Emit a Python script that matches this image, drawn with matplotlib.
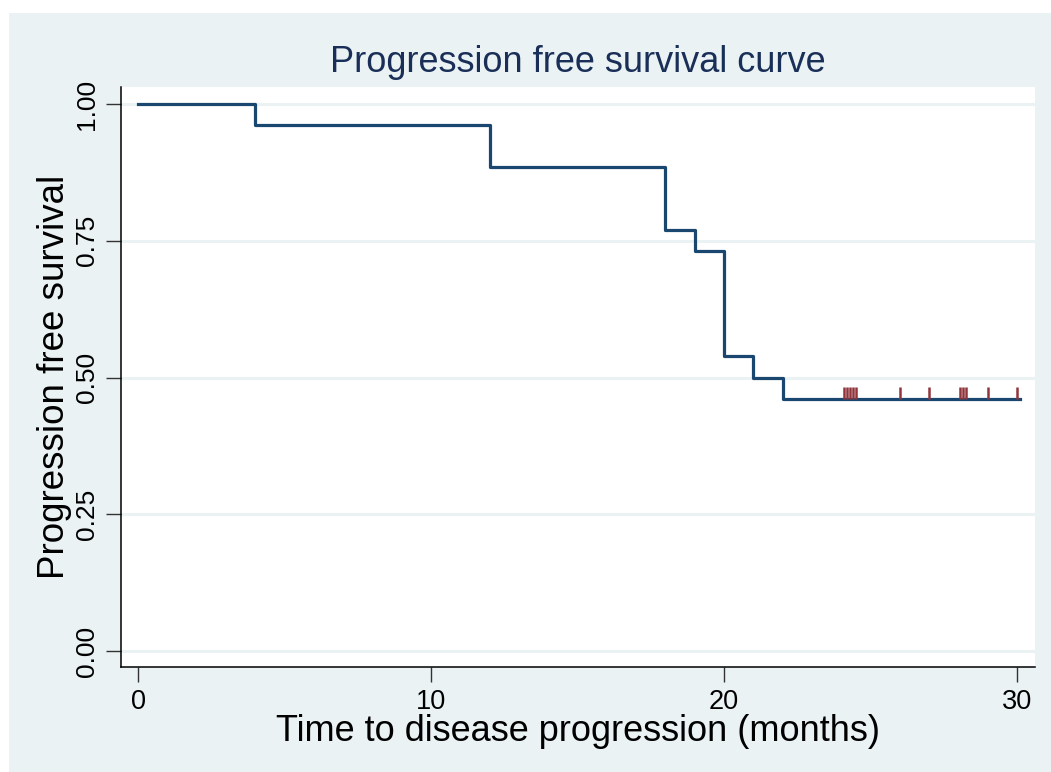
import matplotlib
matplotlib.use("Agg")
import matplotlib.pyplot as plt
import numpy as np

plt.rcParams['font.family'] = ['Liberation Sans', 'DejaVu Sans']

# Data
step_times = [0, 4, 12, 18, 19, 20, 21, 22, 30.1]
step_surv = [1.0, 0.9615, 0.8846, 0.7692, 0.7308, 0.5385, 0.5, 0.4615, 0.4615]
censor_times = [24.1, 24.2, 24.3, 24.4, 24.5, 26.0, 27.0, 28.05, 28.15, 28.25, 29.0, 30.0]
censor_surv = [0.4615] * len(censor_times)
yticks = [0.0, 0.25, 0.5, 0.75, 1.0]
ytick_labels = ["0.00", "0.25", "0.50", "0.75", "1.00"]
xticks = [0, 10, 20, 30]

W, H = 1051, 772
fig = plt.figure(figsize=(W / 100, H / 100), dpi=100)
fig.patch.set_facecolor("white")
bg = "#EAF2F3"
fig.patches.append(plt.Rectangle((9 / W, 0), 1 - 9 / W, 1 - 13 / H,
                                 transform=fig.transFigure, facecolor=bg,
                                 edgecolor="none", zorder=-10))

left, right, top, bottom = 121, 1035, 87, 667
ax = fig.add_axes([left / W, 1 - bottom / H, (right - left) / W, (bottom - top) / H])
ax.set_facecolor("white")

xs = (1017 - 138) / 30
ax.set_xlim(-(138 - left) / xs, 30 + (right - 1017) / xs)
ys = (651 - 104)
ax.set_ylim(-(bottom - 651) / ys, 1 + (104 - top) / ys)

for y in yticks:
    ax.axhline(y, color=bg, lw=2.2, zorder=0)

ax.step(step_times, step_surv, where="post", color="#1a476f", lw=2.3, zorder=3)
ax.vlines(censor_times, np.array(censor_surv), np.array(censor_surv) + 0.021,
          color="#90353B", lw=1.8, zorder=4)

ax.set_xticks(xticks)
ax.set_xticklabels([str(t) for t in xticks], fontsize=19.5)
ax.set_yticks(yticks)
ax.set_yticklabels(ytick_labels, fontsize=19, rotation=90, va="center")
ax.tick_params(axis="both", direction="out", length=11, width=1, color="#333333", pad=5)
ax.tick_params(axis="x", pad=5)
for s in ["top", "right"]:
    ax.spines[s].set_visible(False)
for s in ["left", "bottom"]:
    ax.spines[s].set_linewidth(1.1)
    ax.spines[s].set_color("black")

ax.set_xlabel("Time to disease progression (months)", fontsize=26)
ax.set_ylabel("Progression free survival", fontsize=26.5)
ax.xaxis.set_label_coords(0.5, -(714 - 667) / (bottom - top))
ax.yaxis.set_label_coords(-(121 - 72) / (right - left), 0.5)
fig.text(578 / W, 1 - 63 / H, "Progression free survival curve", fontsize=26,
         color="#1a2f58", ha="center", va="center")

fig.savefig("out.png", dpi=100)
